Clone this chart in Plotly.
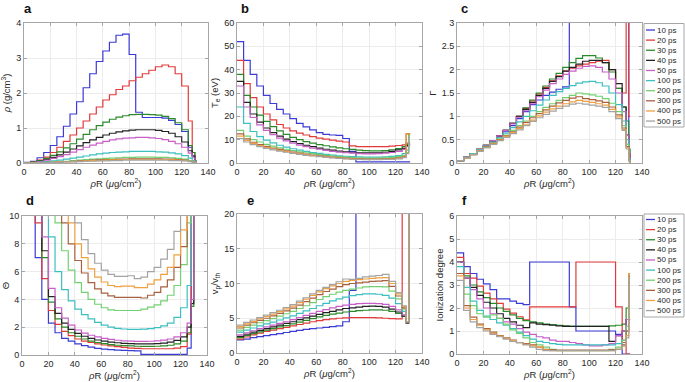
import plotly.graph_objects as go

# ---------------- data ----------------
rhoR = [0, 5, 10, 15, 20, 25, 30, 35, 40, 45, 50, 55, 60, 65, 70, 75, 80, 85,
        90, 95, 100, 105, 110, 115, 120, 125, 128, 130, 131]
times = ["10 ps", "20 ps", "30 ps", "40 ps", "50 ps", "100 ps", "200 ps", "300 ps", "400 ps", "500 ps"]
colors = ["#3b3bd6", "#e23a3a", "#2a8a2a", "#222222", "#c75fc7", "#3cbfbf",
          "#72d072", "#a8603e", "#f0a040", "#a3a3a3"]

# panel a: density (g/cm^3)
rho = [
    [0.02,0.05,0.15,0.3,0.5,0.75,1.05,1.4,1.75,2.15,2.55,2.9,3.2,3.45,3.65,3.68,3.1,1.45,1.3,1.3,1.3,1.28,1.22,1.1,0.9,0.45,0.2,0.05,0],
    [0.01,0.03,0.08,0.17,0.3,0.45,0.62,0.8,1.0,1.2,1.4,1.6,1.8,1.95,2.1,2.2,2.35,2.45,2.55,2.65,2.75,2.8,2.75,2.55,2.2,1.2,0.3,0.05,0],
    [0.01,0.03,0.07,0.13,0.22,0.32,0.43,0.55,0.68,0.82,0.95,1.07,1.17,1.25,1.31,1.35,1.38,1.39,1.39,1.38,1.37,1.33,1.27,1.15,0.95,0.5,0.3,0.05,0],
    [0.01,0.02,0.05,0.1,0.16,0.23,0.31,0.4,0.49,0.58,0.66,0.73,0.8,0.85,0.89,0.92,0.94,0.95,0.95,0.95,0.93,0.9,0.85,0.75,0.6,0.35,0.2,0.05,0],
    [0.01,0.02,0.04,0.08,0.13,0.18,0.24,0.31,0.38,0.45,0.51,0.57,0.62,0.66,0.69,0.71,0.72,0.73,0.73,0.72,0.7,0.67,0.62,0.55,0.45,0.28,0.15,0.04,0],
    [0,0.01,0.02,0.04,0.06,0.08,0.11,0.14,0.17,0.2,0.23,0.26,0.28,0.3,0.31,0.32,0.33,0.33,0.33,0.33,0.32,0.31,0.29,0.26,0.21,0.14,0.07,0.02,0],
    [0,0.01,0.01,0.02,0.03,0.04,0.05,0.07,0.08,0.1,0.11,0.12,0.13,0.14,0.15,0.16,0.16,0.17,0.17,0.17,0.16,0.16,0.15,0.13,0.11,0.07,0.04,0.01,0],
    [0,0,0.01,0.02,0.02,0.03,0.04,0.05,0.06,0.07,0.08,0.09,0.1,0.1,0.11,0.11,0.12,0.12,0.12,0.12,0.12,0.11,0.11,0.1,0.08,0.05,0.03,0.01,0],
    [0,0,0.01,0.01,0.02,0.03,0.03,0.04,0.05,0.06,0.07,0.07,0.08,0.09,0.09,0.1,0.1,0.1,0.1,0.1,0.1,0.1,0.09,0.08,0.07,0.05,0.03,0.01,0],
    [0,0,0.01,0.01,0.02,0.02,0.03,0.03,0.04,0.05,0.05,0.06,0.06,0.07,0.07,0.08,0.08,0.08,0.08,0.08,0.08,0.08,0.07,0.07,0.06,0.04,0.02,0.01,0],
]

# panel b: electron temperature (eV)
Te = [
    [52,44,38,33,29,25.5,23,21,19,17,15.5,14.2,13,12.3,12,11.8,10.5,5,0.5,0.5,0.5,0.5,0.5,0.5,0.5,0.5,0.5,0.5,0.5],
    [44,34,28,24,21,18.5,16.5,15,13.8,12.8,12,11.3,10.7,10.2,9.8,9.4,9.0,7.3,7.0,7.0,7.0,7.0,7.0,7.2,7.5,7.8,8.5,8.5,8.5],
    [38,29,24,20.5,17.8,15.6,13.8,12.3,11,10,9.2,8.5,7.9,7.4,6.9,6.5,6.1,5.8,5.5,5.3,5.2,5.2,5.3,5.6,6.2,7,8,12.5,12.5],
    [35,26,21,17.5,15,13,11.5,10.2,9.2,8.3,7.6,7,6.4,5.9,5.5,5.1,4.8,4.6,4.4,4.3,4.3,4.4,4.6,5,5.6,6.3,7.5,8,8],
    [33,24,19.5,16.3,14,12.2,10.7,9.5,8.5,7.7,7,6.4,5.9,5.4,5,4.7,4.4,4.2,4,3.9,3.9,4,4.2,4.5,5,5.8,7,8,8],
    [24,17,13.5,11.3,9.8,8.6,7.6,6.8,6.1,5.5,5,4.5,4.1,3.7,3.4,3.1,2.9,2.7,2.6,2.5,2.5,2.5,2.6,2.8,3.2,4,5.5,9,9],
    [14,11.5,10,9,8,7.2,6.5,5.9,5.3,4.8,4.4,4,3.6,3.3,3,2.7,2.5,2.3,2.2,2.1,2.1,2.1,2.2,2.4,2.7,3.3,4.5,12,12],
    [12.5,10.3,8.9,7.9,7.1,6.4,5.8,5.2,4.7,4.2,3.8,3.4,3.1,2.8,2.5,2.3,2.1,1.9,1.8,1.7,1.7,1.7,1.8,1.9,2.2,2.7,12.5,12.5,12.5],
    [11.5,9.6,8.4,7.5,6.7,6,5.4,4.9,4.4,3.9,3.5,3.2,2.9,2.6,2.3,2.1,1.9,1.7,1.6,1.5,1.5,1.5,1.6,1.7,2,2.5,12.5,12.5,12.5],
    [10.5,9,7.9,7,6.3,5.6,5.1,4.6,4.1,3.7,3.3,3,2.7,2.4,2.2,2,1.8,1.6,1.5,1.4,1.4,1.4,1.5,1.6,1.8,2.3,4,11,11],
]

# panel c: coupling parameter Gamma
Gamma = [
    [0.05,0.12,0.2,0.28,0.37,0.46,0.56,0.67,0.8,0.95,1.1,1.25,1.35,1.45,1.52,1.58,1.63,9,9,9,9,9,9,9,9,9,9,0.3,0.3],
    [0.05,0.12,0.2,0.29,0.38,0.48,0.58,0.7,0.85,1.0,1.17,1.33,1.48,1.62,1.76,1.87,1.97,2.03,2.08,2.12,2.15,2.18,2.2,2.0,1.6,1.5,9,1.0,1.0],
    [0.05,0.12,0.2,0.29,0.38,0.48,0.58,0.7,0.85,1.0,1.18,1.35,1.5,1.65,1.8,1.92,2.05,2.15,2.24,2.3,2.3,2.25,2.15,1.95,1.6,1.2,0.9,0.3,0],
    [0.05,0.12,0.2,0.29,0.38,0.48,0.58,0.7,0.85,1.0,1.15,1.3,1.45,1.6,1.75,1.85,1.97,2.05,2.12,2.18,2.2,2.2,2.15,2.0,1.7,1.2,0.6,0.2,0],
    [0.05,0.12,0.2,0.29,0.38,0.48,0.58,0.7,0.84,0.98,1.12,1.27,1.42,1.56,1.7,1.8,1.9,1.97,2.03,2.07,2.08,2.05,1.95,1.8,1.5,1.1,0.6,0.2,0],
    [0.05,0.12,0.2,0.28,0.36,0.45,0.54,0.64,0.76,0.88,1.0,1.12,1.24,1.35,1.45,1.53,1.6,1.66,1.71,1.74,1.75,1.72,1.65,1.5,1.25,0.9,0.5,0.1,0],
    [0.05,0.11,0.19,0.27,0.35,0.43,0.51,0.6,0.7,0.8,0.9,1.0,1.1,1.19,1.27,1.34,1.4,1.45,1.5,1.48,1.46,1.43,1.38,1.28,1.1,0.8,0.4,0.05,0],
    [0.05,0.11,0.18,0.26,0.34,0.42,0.5,0.58,0.67,0.77,0.87,0.97,1.06,1.14,1.22,1.29,1.34,1.39,1.42,1.38,1.36,1.33,1.3,1.2,1.03,0.75,0.35,0.05,0],
    [0.05,0.11,0.18,0.26,0.33,0.41,0.49,0.57,0.65,0.74,0.83,0.92,1.01,1.09,1.16,1.22,1.27,1.31,1.34,1.32,1.3,1.27,1.24,1.15,0.99,0.72,0.33,0.05,0],
    [0.05,0.11,0.18,0.25,0.33,0.4,0.48,0.55,0.63,0.71,0.8,0.89,0.97,1.04,1.11,1.17,1.22,1.26,1.28,1.26,1.24,1.22,1.19,1.1,0.95,0.7,0.3,0.05,0],
]

# panel d: degeneracy parameter Theta
Theta = [
    [30,30,7,4,2.3,1.6,1.2,1.0,0.8,0.68,0.56,0.48,0.42,0.38,0.35,0.33,0.31,0.3,0.05,0.05,0.05,0.05,0.05,0.05,0.05,0.5,30,30,30],
    [30,30,9.5,5.5,3.2,2.2,1.7,1.4,1.15,1.0,0.9,0.8,0.72,0.65,0.6,0.55,0.5,0.48,0.45,0.45,0.45,0.45,0.45,0.5,0.6,1.5,30,30,30],
    [30,30,30,7,3.8,2.6,2.0,1.6,1.35,1.15,1.0,0.9,0.82,0.75,0.7,0.67,0.65,0.63,0.62,0.62,0.63,0.66,0.7,0.8,1.0,1.6,3.5,30,30],
    [30,30,30,7.5,4.2,3.0,2.3,1.85,1.55,1.35,1.2,1.08,1.0,0.93,0.88,0.84,0.82,0.8,0.8,0.8,0.82,0.86,0.93,1.05,1.3,2.0,3.7,30,30],
    [30,30,30,8.5,4.8,3.4,2.65,2.15,1.8,1.58,1.42,1.3,1.2,1.12,1.06,1.02,1.0,0.98,0.98,0.99,1.02,1.07,1.15,1.3,1.6,2.3,4.0,30,30],
    [30,30,30,30,8.5,6.0,4.7,3.9,3.3,2.9,2.6,2.35,2.15,2.0,1.92,1.87,1.85,1.85,1.86,1.9,1.97,2.1,2.3,2.7,3.4,5.0,30,30,30],
    [30,30,30,30,30,9.5,7.5,6.1,5.2,4.5,4.0,3.65,3.4,3.25,3.2,3.2,3.2,3.2,3.3,3.45,3.6,3.9,4.3,5.0,6.5,9.5,30,30,30],
    [30,30,30,30,30,30,9.5,8,6.8,5.9,5.2,4.75,4.45,4.25,4.15,4.15,4.15,4.15,4.1,4.3,4.5,4.9,5.4,6.3,7.8,30,30,30,30],
    [30,30,30,30,30,30,30,9.5,8,7,6.2,5.6,5.25,5.0,4.92,4.95,4.95,4.85,4.85,5.1,5.4,5.8,6.3,7.2,9.0,30,30,30,30],
    [30,30,30,30,30,30,30,30,9.5,8.3,7.3,6.6,6.1,5.8,5.65,5.65,5.7,5.5,5.6,6.0,6.3,6.9,7.6,8.9,30,30,30,30,30],
]

# panel e: vp / vth
vratio = [
    [1.9,2.0,2.2,2.35,2.5,2.65,2.8,2.95,3.1,3.25,3.4,3.5,3.6,3.7,3.8,3.9,4.5,9,40,40,40,40,40,40,40,40,40,40,40],
    [2.0,2.3,2.6,2.85,3.1,3.3,3.5,3.7,3.9,4.1,4.3,4.5,4.65,4.8,4.9,5.0,5.05,5.1,5.1,5.1,5.1,5.05,5.0,4.95,4.9,40,40,40,40],
    [2.2,2.5,2.8,3.05,3.3,3.5,3.75,3.95,4.2,4.45,4.7,4.95,5.2,5.4,5.6,5.75,5.9,6.0,6.1,6.15,6.2,6.2,6.15,6.0,5.7,5.3,4.5,40,40],
    [2.4,2.7,3.0,3.25,3.5,3.75,4.0,4.25,4.5,4.8,5.05,5.3,5.55,5.8,6.0,6.2,6.4,6.5,6.6,6.7,6.75,6.7,6.6,6.3,5.9,5.3,4.3,40,40],
    [2.6,2.9,3.2,3.5,3.75,4.0,4.25,4.5,4.8,5.1,5.4,5.7,6.0,6.25,6.5,6.7,6.9,7.0,7.1,7.15,7.15,7.1,7.0,6.7,6.2,5.5,4.5,40,40],
    [3.0,3.3,3.6,3.9,4.2,4.45,4.75,5.05,5.35,5.7,6.05,6.4,6.8,7.15,7.5,7.8,8.05,8.25,8.4,8.5,8.5,8.45,8.3,7.9,7.1,6.0,4.5,40,40],
    [3.3,3.7,4.0,4.35,4.65,4.95,5.3,5.65,6.0,6.4,6.8,7.25,7.7,8.1,8.45,8.75,9.0,9.2,9.35,9.5,9.55,9.55,9.5,8.9,7.8,6.3,4.5,40,40],
    [3.6,4.0,4.35,4.7,5.0,5.35,5.7,6.05,6.45,6.9,7.4,7.9,8.4,8.85,9.2,9.55,9.85,10.0,10.1,10.2,10.3,10.35,10.4,9.6,8.2,6.5,4.5,40,40],
    [3.8,4.2,4.55,4.9,5.25,5.6,5.95,6.35,6.75,7.25,7.75,8.3,8.8,9.25,9.65,10.0,10.3,10.45,10.55,10.65,10.75,10.8,10.85,10.0,8.5,6.7,4.5,40,40],
    [4.0,4.4,4.75,5.1,5.45,5.8,6.15,6.55,6.95,7.45,7.95,8.5,9.0,9.45,9.85,10.25,10.65,10.6,10.75,10.95,11.05,11.15,11.3,10.3,8.7,6.8,4.5,40,40],
]

# panel f: ionization degree
Zion = [
    [4.4,3.8,3.5,3.25,3.05,2.8,2.4,2.4,2.3,2.2,2.15,4.0,4.0,4.0,4.0,4.0,4.0,2.05,1.0,1.0,1.0,1.0,1.0,1.0,0.85,0.0,0.0,0.0,0.0],
    [4.2,3.5,3.3,2.95,2.65,2.4,2.2,1.95,1.78,1.62,1.48,2.05,2.05,2.05,2.05,2.05,2.05,2.05,4.0,4.0,4.0,4.0,4.0,4.0,2.05,0.5,0.0,0.0,0.0],
    [4.0,3.4,3.0,2.7,2.45,2.2,2.0,1.85,1.7,1.55,1.45,1.4,1.35,1.3,1.28,1.25,1.22,1.2,1.2,1.2,1.2,1.2,1.2,1.22,1.25,1.3,2.0,3.4,3.4],
    [4.0,3.3,2.9,2.55,2.25,2.0,1.75,1.55,1.4,1.25,1.15,1.35,1.3,1.28,1.25,1.22,1.2,1.2,1.2,1.2,1.2,1.2,1.2,0.55,0.8,1.0,1.5,1.5,1.5],
    [4.0,3.3,2.8,2.4,2.0,1.75,1.55,1.4,1.3,1.1,0.95,0.85,0.75,0.7,0.6,0.55,0.55,0.5,0.45,0.4,0.35,0.35,0.4,0.45,0.8,1.0,1.5,1.5,1.5],
    [3.8,2.9,2.3,1.9,1.65,1.5,1.35,1.25,1.1,0.95,0.8,0.65,0.55,0.5,0.45,0.42,0.4,0.4,0.4,0.4,0.4,0.4,0.4,0.4,0.45,0.6,1.0,2.1,2.1],
    [3.5,2.6,2.1,1.75,1.6,1.7,1.55,1.3,1.05,0.9,0.7,0.5,0.4,0.3,0.2,0.15,0.15,0.15,0.15,0.15,0.15,0.15,0.15,0.2,0.3,0.6,1.2,3.3,3.3],
    [3.5,2.1,1.6,1.3,1.1,0.95,0.8,0.7,0.6,0.5,0.45,0.4,0.3,0.2,0.18,0.17,0.17,0.17,0.17,0.17,0.17,0.17,0.17,0.18,0.2,0.4,1.0,3.5,3.5],
    [3.4,2.0,1.5,1.25,1.05,0.9,0.78,0.68,0.58,0.5,0.42,0.35,0.3,0.18,0.15,0.15,0.15,0.15,0.15,0.15,0.15,0.15,0.15,0.15,0.2,0.35,0.8,3.5,3.5],
    [3.2,1.9,1.4,1.15,1.0,0.85,0.75,0.65,0.55,0.48,0.4,0.3,0.2,0.15,0.15,0.15,0.15,0.15,0.15,0.15,0.15,0.15,0.15,0.15,0.2,0.35,0.7,3.3,3.3],
]

x_ticks = [0, 20, 40, 60, 80, 100, 120, 140]

W, H = 685, 382
def px(x, y):
    return x / W, 1 - y / H

FONT = "Liberation Sans, Arial, Helvetica, sans-serif"
TXT = "#262626"
AXC = "#a6a6a6"

panels = [
    (rho,    [0, 4],  1,   "<i>ρ</i> (g/cm<sup>3</sup>)", (24, 208), (23, 163), "a", (28, 8)),
    (Te,     [0, 60], 10,  "T<sub>e</sub> (eV)",         (237, 422), (23, 163), "b", (245, 8)),
    (Gamma,  [0, 3],  0.5, "Γ",                          (457, 642), (23, 163), "c", (465, 8)),
    (Theta,  [0, 10], 2,   "Θ",                          (22, 207), (216, 355), "d", (30, 200)),
    (vratio, [0, 20], 5,   "v<sub>p</sub>/v<sub>th</sub>", (237, 422), (214, 353), "e", (250, 200)),
    (Zion,   [0, 6],  1,   "Ionization degree",          (457, 642), (216, 354), "f", (465, 200)),
]

fig = go.Figure()
layout = dict(width=W, height=H, autosize=False, margin=dict(l=0, r=0, t=0, b=0, pad=0),
              paper_bgcolor="white", plot_bgcolor="white", showlegend=False,
              font=dict(family=FONT, size=9, color=TXT))
annotations = []
shapes = []

for k, (data, yr, dt, ytitle, xd, yd, letter, lpos) in enumerate(panels):
    n = k + 1
    xa = "x" if n == 1 else f"x{n}"
    ya = "y" if n == 1 else f"y{n}"
    for i, series in enumerate(data):
        fig.add_trace(go.Scatter(x=rhoR, y=series, mode="lines", line_shape="hv",
                                 line=dict(color=colors[i], width=1.2),
                                 name=times[i], xaxis=xa, yaxis=ya, showlegend=False))
    common = dict(showline=True, linecolor=AXC, linewidth=1, mirror="ticks",
                  ticks="inside", ticklen=3, tickcolor=AXC, showgrid=True,
                  gridcolor="#ececec", gridwidth=1, zeroline=False, automargin=False,
                  tickfont=dict(family=FONT, size=9, color=TXT))
    layout["xaxis" if n == 1 else f"xaxis{n}"] = dict(
        common, domain=[xd[0] / W, xd[1] / W], range=[0, 140], tickvals=x_ticks,
        anchor=ya, title=dict(text="<i>ρ</i>R (<i>μ</i>g/cm<sup>2</sup>)",
                              font=dict(family=FONT, size=9.5, color=TXT), standoff=2))
    layout["yaxis" if n == 1 else f"yaxis{n}"] = dict(
        common, domain=[1 - yd[1] / H, 1 - yd[0] / H], range=yr, dtick=dt,
        anchor=xa, title=dict(text=ytitle, font=dict(family=FONT, size=9.5, color=TXT), standoff=3))
    lx, ly = px(*lpos)
    annotations.append(dict(text=f"<b>{letter}</b>", x=lx, y=ly, xref="paper", yref="paper",
                            showarrow=False, xanchor="center", yanchor="middle",
                            font=dict(family=FONT, size=13, color="#111111")))

# legends (next to panels c and f)
for (top, bottom, first) in [(23.5, 127, 30), (214, 317, 219.5)]:
    x0, y0 = px(644, top)
    x1, y1 = px(684, bottom)
    shapes.append(dict(type="rect", xref="paper", yref="paper", x0=x0, x1=x1, y0=y1, y1=y0,
                       line=dict(color=AXC, width=1), fillcolor="white", layer="above"))
    for i, t in enumerate(times):
        yy = first + i * 10.12
        lx0, ly = px(646, yy)
        lx1, _ = px(655, yy)
        shapes.append(dict(type="line", xref="paper", yref="paper", x0=lx0, x1=lx1, y0=ly, y1=ly,
                           line=dict(color=colors[i], width=1.3), layer="above"))
        tx, _ = px(655.5, yy)
        annotations.append(dict(text=t, x=tx, y=ly, xref="paper", yref="paper", showarrow=False,
                                xanchor="left", yanchor="middle", borderpad=0,
                                font=dict(family=FONT, size=8, color=TXT)))

layout["annotations"] = annotations
layout["shapes"] = shapes
fig.update_layout(**layout)
fig.write_html("out.html", config={"displayModeBar": False},
               post_script="document.body.style.margin='0px';document.body.style.padding='0px';")
